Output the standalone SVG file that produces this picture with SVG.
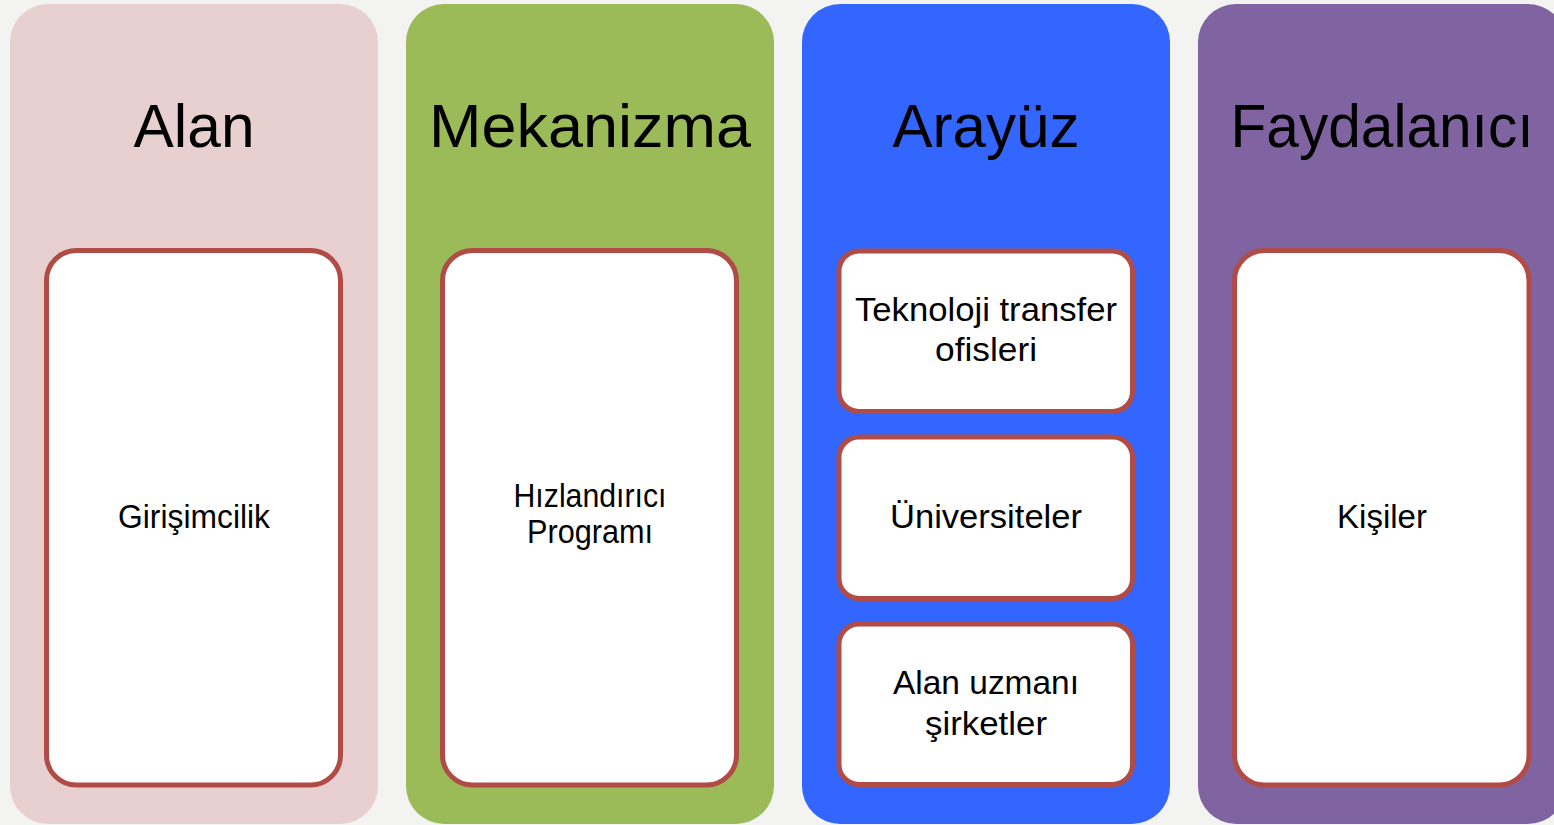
<svg xmlns="http://www.w3.org/2000/svg" width="1554" height="825" viewBox="0 0 1554 825">
  <style>
    .title { font-family: "Liberation Sans", Arial, sans-serif; font-size: 62px; fill: #000; text-anchor: middle; }
    .body { font-family: "Liberation Sans", Arial, sans-serif; font-size: 34px; fill: #000; text-anchor: middle; }
    .inner { fill: #ffffff; stroke: #b14b46; stroke-width: 5; }
  </style>
  <rect x="0" y="0" width="1554" height="825" fill="#f3f3f2"/>

  <g id="col-alan">
    <rect x="10" y="4" width="368" height="820" rx="38" fill="#e8d0d0"/>
    <text class="title" x="194" y="147" textLength="121" lengthAdjust="spacingAndGlyphs">Alan</text>
    <rect class="inner" x="46.5" y="250.5" width="294" height="534.5" rx="30"/>
    <text class="body" x="194" y="528" textLength="152" lengthAdjust="spacingAndGlyphs">Girişimcilik</text>
  </g>

  <g id="col-mekanizma">
    <rect x="406" y="4" width="368" height="820" rx="38" fill="#9bbb59"/>
    <text class="title" x="590" y="147" textLength="322" lengthAdjust="spacingAndGlyphs">Mekanizma</text>
    <rect class="inner" x="442.5" y="250.5" width="294" height="534.5" rx="30"/>
    <text class="body" x="590" y="507" font-size="31" textLength="153" lengthAdjust="spacingAndGlyphs">Hızlandırıcı</text>
    <text class="body" x="590" y="543" font-size="31" textLength="126" lengthAdjust="spacingAndGlyphs">Programı</text>
  </g>

  <g id="col-arayuz">
    <rect x="802" y="4" width="368" height="820" rx="38" fill="#3366ff"/>
    <text class="title" x="986" y="147" textLength="187" lengthAdjust="spacingAndGlyphs">Arayüz</text>
    <g id="arayuz-1">
      <rect class="inner" x="839" y="251" width="293.5" height="160.5" rx="20"/>
      <text class="body" x="986" y="321" textLength="262" lengthAdjust="spacingAndGlyphs">Teknoloji transfer</text>
      <text class="body" x="986" y="361" textLength="102" lengthAdjust="spacingAndGlyphs">ofisleri</text>
    </g>
    <g id="arayuz-2">
      <rect class="inner" x="839" y="437" width="293.5" height="161.5" rx="20"/>
      <text class="body" x="986" y="528" textLength="192" lengthAdjust="spacingAndGlyphs">Üniversiteler</text>
    </g>
    <g id="arayuz-3">
      <rect class="inner" x="839" y="624" width="293.5" height="160.5" rx="20"/>
      <text class="body" x="986" y="694" textLength="186" lengthAdjust="spacingAndGlyphs">Alan uzmanı</text>
      <text class="body" x="986" y="735" textLength="122" lengthAdjust="spacingAndGlyphs">şirketler</text>
    </g>
  </g>

  <g id="col-faydalanici">
    <rect x="1198" y="4" width="368" height="820" rx="38" fill="#8064a2"/>
    <text class="title" x="1382" y="147" textLength="303" lengthAdjust="spacingAndGlyphs">Faydalanıcı</text>
    <rect class="inner" x="1234.5" y="250.5" width="294.5" height="534.5" rx="30"/>
    <text class="body" x="1382" y="528" textLength="90" lengthAdjust="spacingAndGlyphs">Kişiler</text>
  </g>

  <g id="connectors"></g>
</svg>
